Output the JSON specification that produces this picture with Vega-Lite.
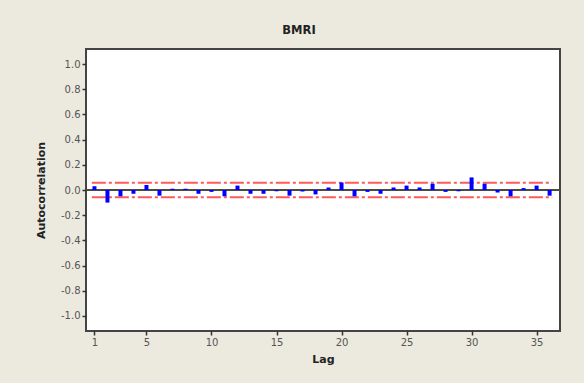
{
  "$schema": "https://vega.github.io/schema/vega-lite/v6.json",
  "autosize": "none",
  "width": 474,
  "height": 282,
  "padding": {"left": 86, "top": 49, "right": 24, "bottom": 52},
  "background": "#ECE9DF",
  "title": {
    "text": "BMRI",
    "font": "DejaVu Sans",
    "fontSize": 11.5,
    "fontWeight": "bold",
    "color": "#222222",
    "anchor": "middle",
    "frame": "group",
    "dx": -24,
    "offset": 13
  },
  "datasets": {
    "acf": [
      {"lag": 1, "acf": 0.03}, {"lag": 2, "acf": -0.10}, {"lag": 3, "acf": -0.05},
      {"lag": 4, "acf": -0.03}, {"lag": 5, "acf": 0.04}, {"lag": 6, "acf": -0.045},
      {"lag": 7, "acf": 0.01}, {"lag": 8, "acf": 0.01}, {"lag": 9, "acf": -0.03},
      {"lag": 10, "acf": -0.015}, {"lag": 11, "acf": -0.05}, {"lag": 12, "acf": 0.035},
      {"lag": 13, "acf": -0.03}, {"lag": 14, "acf": -0.03}, {"lag": 15, "acf": -0.01},
      {"lag": 16, "acf": -0.045}, {"lag": 17, "acf": -0.012}, {"lag": 18, "acf": -0.035},
      {"lag": 19, "acf": 0.02}, {"lag": 20, "acf": 0.06}, {"lag": 21, "acf": -0.05},
      {"lag": 22, "acf": -0.015}, {"lag": 23, "acf": -0.03}, {"lag": 24, "acf": 0.02},
      {"lag": 25, "acf": 0.035}, {"lag": 26, "acf": 0.02}, {"lag": 27, "acf": 0.05},
      {"lag": 28, "acf": -0.015}, {"lag": 29, "acf": -0.01}, {"lag": 30, "acf": 0.1},
      {"lag": 31, "acf": 0.05}, {"lag": 32, "acf": -0.02}, {"lag": 33, "acf": -0.05},
      {"lag": 34, "acf": 0.015}, {"lag": 35, "acf": 0.035}, {"lag": 36, "acf": -0.045}
    ],
    "ci": [
      {"start": 0.8, "end": 36.2, "limit": 0.057},
      {"start": 0.8, "end": 36.2, "limit": -0.057}
    ],
    "zero": [{"level": 0}]
  },
  "layer": [
    {
      "data": {"name": "zero"},
      "mark": {"type": "rule", "color": "#4a4a4a", "strokeWidth": 1.8},
      "encoding": {"y": {"field": "level", "type": "quantitative"}}
    },
    {
      "data": {"name": "ci"},
      "mark": {"type": "rule", "color": "#FF5a5a", "strokeWidth": 2, "strokeDash": [14, 3, 3, 3]},
      "encoding": {
        "x": {"field": "start", "type": "quantitative"},
        "x2": {"field": "end"},
        "y": {"field": "limit", "type": "quantitative"}
      }
    },
    {
      "data": {"name": "acf"},
      "mark": {"type": "rule", "color": "#0000FF", "strokeWidth": 4},
      "encoding": {
        "x": {
          "field": "lag",
          "type": "quantitative",
          "scale": {"domain": [0.35, 36.8], "nice": false, "zero": false},
          "axis": {
            "title": "Lag",
            "values": [1, 5, 10, 15, 20, 25, 30, 35],
            "labelOverlap": false,
            "titlePadding": 6
          }
        },
        "y": {
          "field": "acf",
          "type": "quantitative",
          "scale": {"domain": [-1.12, 1.12], "nice": false},
          "axis": {
            "title": "Autocorrelation",
            "values": [-1, -0.8, -0.6, -0.4, -0.2, 0, 0.2, 0.4, 0.6, 0.8, 1],
            "tickCount": 11,
            "labelOverlap": false,
            "labelExpr": "replace(format(datum.value, '.1f'), '\u2212', '-')",
            "titlePadding": 14
          }
        },
        "y2": {"datum": 0}
      }
    }
  ],
  "config": {
    "view": {"stroke": "#444444", "strokeWidth": 2, "fill": "#FFFFFF"},
    "axis": {
      "grid": false,
      "domain": false,
      "tickColor": "#333333",
      "tickSize": 4,
      "tickWidth": 1.5,
      "labelFont": "DejaVu Sans",
      "labelFontSize": 10,
      "labelColor": "#555555",
      "labelPadding": 2,
      "titleFont": "DejaVu Sans",
      "titleFontSize": 11,
      "titleFontWeight": "bold",
      "titleColor": "#222222"
    }
  }
}
